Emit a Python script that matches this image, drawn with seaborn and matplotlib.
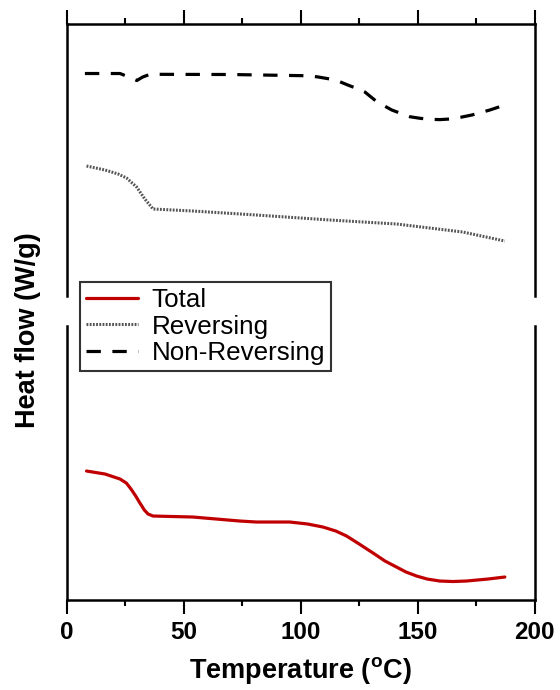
import seaborn as sns
import matplotlib.pyplot as plt
from matplotlib.ticker import MultipleLocator

# Temperature (C) and heat flow (W/g, arbitrary offsets)
temp_total = [8.5, 16.4, 22.8, 25.5, 27.5, 29.5, 31.3, 33.2, 34.8, 36.9, 53.9, 74.0,
              81.1, 95.4, 103.0, 109.5, 115.0, 119.6, 125.0, 130.9, 136.0, 140.9,
              145.0, 149.5, 154.0, 159.4, 165.0, 170.8, 180.0, 187.2]
total = [-0.471, -0.474, -0.479, -0.483, -0.489, -0.496, -0.503, -0.510, -0.514,
         -0.516, -0.517, -0.521, -0.522, -0.522, -0.524, -0.527, -0.531, -0.536,
         -0.544, -0.553, -0.561, -0.567, -0.572, -0.576, -0.579, -0.581, -0.5815,
         -0.581, -0.579, -0.577]

temp_rev = [8.5, 16.4, 22.0, 25.6, 29.9, 33.4, 36.9, 53.9, 81.1, 112.5, 141.0,
            169.2, 187.2]
reversing = [-0.166, -0.170, -0.174, -0.178, -0.187, -0.199, -0.209, -0.211,
             -0.215, -0.220, -0.224, -0.232, -0.241]

temp_nonrev = [7.8, 22.8, 26.5, 30.0, 32.5, 35.6, 70.0, 101.8, 107.0, 112.5, 116.5,
               120.1, 124.0, 127.4, 132.5, 138.9, 146.6, 151.0, 155.1, 159.5,
               163.7, 168.5, 173.1, 180.8, 187.2]
non_reversing = [-0.0735, -0.0735, -0.077, -0.0805, -0.077, -0.0743, -0.0745,
                 -0.0757, -0.0768, -0.079, -0.0815, -0.085, -0.0885, -0.092,
                 -0.1017, -0.110, -0.1167, -0.1183, -0.1193, -0.1196, -0.119,
                 -0.1172, -0.115, -0.110, -0.105]

xticks = [0, 50, 100, 150, 200]

sns.set_style("white")
plt.rcParams["font.family"] = ["Liberation Sans", "DejaVu Sans"]
plt.rcParams["text.color"] = "black"
plt.rcParams["axes.labelcolor"] = "black"
plt.rcParams["xtick.color"] = "black"
plt.rcParams["mathtext.fontset"] = "custom"
plt.rcParams["mathtext.rm"] = "Liberation Sans:bold"
plt.rcParams["mathtext.it"] = "Liberation Sans:bold"

fig = plt.figure(figsize=(5.6, 6.9), dpi=100)
ax_top = fig.add_axes([0.119, 0.571, 0.836, 0.3942])
ax_bot = fig.add_axes([0.119, 0.1304, 0.836, 0.3971])

sns.lineplot(x=temp_nonrev, y=non_reversing, ax=ax_top, color="black", lw=2.3,
             linestyle=(0, (4.5, 3.6)), label="Non-Reversing")
sns.lineplot(x=temp_rev, y=reversing, ax=ax_top, color="#555555", lw=2.2,
             linestyle=(0, (0.6, 0.45)), label="Reversing")
sns.lineplot(x=temp_total, y=total, ax=ax_bot, color="#c00000", lw=2.3,
             label="Total")

for ax in (ax_top, ax_bot):
    if ax.get_legend():
        ax.get_legend().remove()
    ax.set_xlim(0, 200)
    ax.set_xticks(xticks)
    ax.xaxis.set_minor_locator(MultipleLocator(25))
    ax.set_yticks([])
    ax.set_xlabel("")
    ax.set_ylabel("")
    for s in ax.spines.values():
        s.set_linewidth(1.8)
        s.set_color("black")

ax_top.set_ylim(-0.296, -0.024)
ax_bot.set_ylim(-0.600, -0.326)

ax_top.spines["bottom"].set_visible(False)
ax_bot.spines["top"].set_visible(False)

ax_top.xaxis.tick_top()
ax_top.tick_params(axis="x", which="both", direction="out", top=True, bottom=False,
                   labeltop=False, labelbottom=False, width=1.5, color="black")
ax_top.tick_params(axis="x", which="major", length=10)
ax_top.tick_params(axis="x", which="minor", length=4.5)

ax_bot.tick_params(axis="x", which="both", direction="out", bottom=True, top=False,
                   width=1.5, color="black", labelcolor="black")
ax_bot.tick_params(axis="x", which="major", length=10, pad=5, labelsize=17.5)
ax_bot.tick_params(axis="x", which="minor", length=4.5)
for lab in ax_bot.get_xticklabels():
    lab.set_fontweight("bold")

ax_bot.set_xlabel("Temperature ($^{\\mathrm{o}}$C)", fontsize=19.5,
                  fontweight="bold", labelpad=8, color="black")
fig.text(0.05, 0.522, "Heat flow (W/g)", rotation=90, fontsize=19.5,
         fontweight="bold", ha="center", va="center", color="black")

h_top = ax_top.get_lines()
h_bot = ax_bot.get_lines()
handles = [h_bot[0], h_top[1], h_top[0]]
labels = ["Total", "Reversing", "Non-Reversing"]
leg = fig.legend(handles, labels, loc="upper left",
                 bbox_to_anchor=(80 / 560, 1 - 282 / 690), fontsize=18.7,
                 frameon=True, fancybox=False, borderpad=0.25, labelspacing=0.08,
                 handlelength=2.0, handletextpad=0.5, borderaxespad=0,
                 labelcolor="black")
leg.get_frame().set_edgecolor("black")
leg.get_frame().set_linewidth(1.5)

fig.savefig("out.png", dpi=100)
